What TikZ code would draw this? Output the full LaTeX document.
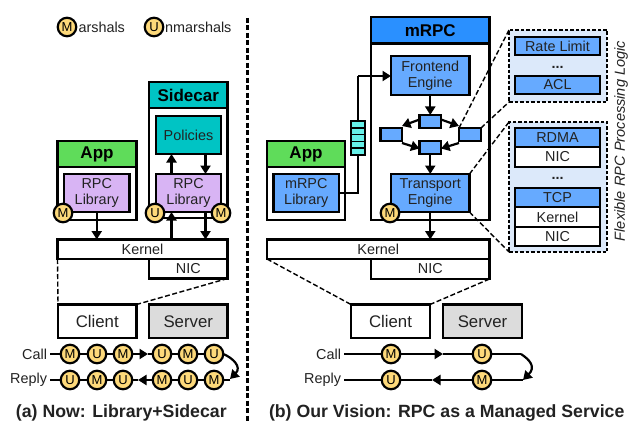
\documentclass[tikz,border=0pt]{standalone}
\usepackage{fontspec}
\setmainfont{Liberation Sans}
\usetikzlibrary{arrows.meta}
\definecolor{cgreen}{HTML}{5FDC5A}
\definecolor{cteal}{HTML}{00C4C4}
\definecolor{cpurple}{HTML}{D8B4F4}
\definecolor{cblue}{HTML}{66AAFF}
\definecolor{cdeep}{HTML}{2A90FF}
\definecolor{ccyan}{HTML}{66F0E8}
\definecolor{cyellow}{HTML}{FDD97A}
\definecolor{cgrey}{HTML}{DCDCDC}
\definecolor{cpanel}{HTML}{DCE9FA}
\definecolor{ctext}{HTML}{222222}
\tikzset{
  x=1pt,y=-1pt,
  box/.style={draw=black,line width=2.2pt,inner sep=0pt,outer sep=0pt,align=center,font=\fontsize{14.4}{16}\selectfont,text=ctext},
  head/.style={box,font=\fontsize{17}{19}\selectfont\bfseries,text=black},
  bigbox/.style={box,font=\fontsize{16.8}{19}\selectfont},
  slotbox/.style={box,font=\fontsize{14.4}{16}\selectfont},
  panel/.style={draw=black,fill=cpanel,line width=1.2pt,dash pattern=on 3.5pt off 2pt,inner sep=0pt,outer sep=0pt},
  badge/.style={circle,draw=black,fill=cyellow,line width=2.2pt,minimum size=18.5pt,inner sep=0pt,outer sep=0pt,font=\fontsize{13}{14}\selectfont},
  lab/.style={inner sep=0pt,outer sep=0pt,font=\fontsize{14.4}{16}\selectfont,text=ctext},
  captext/.style={inner sep=0pt,outer sep=0pt,font=\fontsize{17.7}{20}\selectfont\bfseries,text=ctext},
  conn/.style={draw=black,line width=2.2pt},
  arr/.style={conn,-{Triangle[length=8.5pt,width=10pt]}},
  zoomline/.style={draw=black,line width=1.4pt,dash pattern=on 5pt off 2.5pt},
  divider/.style={draw=black,line width=2.2pt,dash pattern=on 5pt off 2.5pt},
}
\newcommand{\bx}[7]{%
  \pgfmathsetmacro{\cxv}{(#2+#4)/2}\pgfmathsetmacro{\cyv}{(#3+#5)/2}%
  \pgfmathsetmacro{\wv}{#4-#2}\pgfmathsetmacro{\hv}{#5-#3}%
  \node[#6,minimum width=\wv pt,minimum height=\hv pt] (#1) at (\cxv,\cyv) {#7};}
\begin{document}
\begin{tikzpicture}
\useasboundingbox (0,0) rectangle (628,422);
\fill[white] (0,0) rectangle (628,422);
% legend
\node[badge] (legM) at (67,27) {M};
\node[lab,anchor=west] (legMt) at (78.5,27) {arshals};
\node[badge] (legU) at (154,27) {U};
\node[lab,anchor=west] (legUt) at (165,27) {nmarshals};
% divider
\coordinate (divtop) at (247.5,18);
\coordinate (divbot) at (247.5,422);
\draw[divider] (divtop) -- (divbot);
% left: app
\bx{appLb}{57.5}{141}{136.5}{220}{box,fill=white}{}
\bx{appL}{57.5}{141}{136.5}{167}{head,fill=cgreen}{App}
\bx{libA}{64}{174}{129.5}{212}{box,fill=cpurple}{RPC\\Library}
% sidecar
\bx{sideb}{149}{82}{227.5}{218}{box,fill=white}{}
\bx{side}{149}{82}{227.5}{108}{head,fill=cteal}{Sidecar}
\bx{pol}{156}{116}{221}{154}{box,fill=cteal}{Policies}
\bx{libS}{156}{174}{221}{212}{box,fill=cpurple}{RPC\\Library}
% kernel etc
\bx{nicL}{149}{259}{227.5}{278.5}{box,fill=white}{NIC}
\bx{kerL}{57.5}{239.5}{227.5}{259}{box,fill=white}{Kernel}
\bx{cliL}{58}{304.5}{136.5}{338}{bigbox,fill=white}{Client}
\bx{srvL}{149}{304.5}{227.5}{338}{bigbox,fill=cgrey}{Server}
\draw[arr] (libA.south) -- (libA.south |- kerL.north);
\draw[arr] ([xshift=-17pt]libS.north) -- ([xshift=-17pt]pol.south);
\draw[arr] ([xshift=17pt]pol.south) -- ([xshift=17pt]libS.north);
\draw[arr] ([xshift=-17pt]libS.south |- kerL.north) -- ([xshift=-17pt]libS.south);
\draw[arr] ([xshift=17pt]libS.south) -- ([xshift=17pt]libS.south |- kerL.north);
\node[badge] (bA) at (63,213) {M};
\node[badge] (bSu) at (155,213) {U};
\node[badge] (bSm) at (221,213) {M};
\draw[zoomline] (kerL.south west) -- (cliL.north west);
\draw[zoomline] (nicL.south east) -- (cliL.north east);
% left sequence
\node[lab,anchor=east] (callL) at (47,354) {Call};
\node[lab,anchor=east] (replyL) at (47,380) {Reply};
\foreach \n/\x/\t in {a1/70/M,a2/97/U,a3/123/M,a4/162/U,a5/188/M,a6/214/U}
  \node[badge] (\n) at (\x,354) {\t};
\foreach \n/\x/\t in {b1/70/U,b2/97/M,b3/123/U,b4/162/M,b5/188/U,b6/214/M}
  \node[badge] (\n) at (\x,380) {\t};
\draw[conn] ([xshift=3pt]callL.east) -- (a1) -- (a2) -- (a3);
\coordinate (amid) at (148,354);
\draw[arr] (a3) -- (amid);
\draw[conn] (amid) -- (a4) -- (a5) -- (a6);
\coordinate (atip) at (230,379);
\draw[arr] (a6.east) .. controls (233,358) and (242,367) .. (atip);
\draw[conn] (atip |- b6) -- (b6) -- (b5) -- (b4);
\coordinate (bmid) at (138,380);
\draw[arr] (b4) -- (bmid);
\draw[conn] (bmid) -- (b3) -- (b2) -- (b1) -- ([xshift=3pt]replyL.east);
\node[captext,anchor=west] (capL) at (16,413) {(a) Now: Library+Sidecar};
% right: app
\bx{appRb}{267}{141}{345}{220}{box,fill=white}{}
\bx{appR}{267}{141}{345}{167}{head,fill=cgreen}{App}
\bx{libR}{273.5}{174}{339}{212}{box,fill=cblue}{mRPC\\Library}
% mRPC
\bx{mrpcb}{371}{17}{489.5}{220}{box,fill=white}{}
\bx{mrpc}{371}{17}{489.5}{43.5}{head,fill=cdeep}{mRPC}
\bx{front}{391}{56}{469.5}{95}{box,fill=cblue}{Frontend\\Engine}
\bx{trans}{391}{174}{469.5}{212}{box,fill=cblue}{Transport\\Engine}
\bx{st}{419.5}{115}{441}{128}{box,fill=cblue}{}
\bx{sb}{419.5}{141}{441}{154}{box,fill=cblue}{}
\bx{sl}{380.5}{128}{402}{141}{box,fill=cblue}{}
\bx{sr}{459}{128}{481}{141}{box,fill=cblue}{}
\draw[arr] (front.south) -- (st.north);
\draw[arr] (sb.south) -- (trans.north);
\draw[arr] ([yshift=2pt]st.east) -- ([yshift=2pt]sr.north west);
\draw[arr] ([yshift=2pt]st.west) -- ([yshift=2pt]sl.north east);
\draw[arr] ([yshift=-2pt]sl.south east) -- ([yshift=-1pt]sb.west);
\draw[arr] ([yshift=-2pt]sr.south west) -- ([yshift=-1pt]sb.east);
\bx{nicR}{371}{259}{489.5}{279}{box,fill=white}{NIC}
\bx{kerR}{267}{239.5}{489.5}{259}{box,fill=white}{Kernel}
\bx{cliR}{351}{304.5}{430}{338}{bigbox,fill=white}{Client}
\bx{srvR}{443}{304.5}{522}{338}{bigbox,fill=cgrey}{Server}
\draw[arr] (trans.south) -- (trans.south |- kerR.north);
\node[badge] (bT) at (390,213) {M};
\draw[zoomline] (kerR.south west) -- (cliR.north west);
\draw[zoomline] (nicR.south east) -- (cliR.north east);
% queue and link
\coordinate (bendA) at (358,193);
\coordinate (bendB) at (358,76);
\draw[conn] (libR.east |- bendA) -- (bendA) -- (bendB);
\draw[arr] (bendB) -- (front.west |- bendB);
\bx{queue}{351}{121}{365}{155}{box,fill=ccyan}{}
\foreach \y in {127.8,134.6,141.4,148.2}
  \draw[draw=black,line width=1.6pt] (queue.west |- 0,\y) -- (queue.east |- 0,\y);
% panels
\bx{pan1}{509}{30}{607}{102}{panel}{}
\bx{pan2}{509}{122}{607}{252}{panel}{}
\bx{rate}{515}{37}{600}{55}{slotbox,fill=cblue}{Rate Limit}
\node[lab,font=\fontsize{14.4}{16}\selectfont\bfseries] (dots1) at (557.5,67) {...};
\bx{acl}{515}{76}{600}{94}{slotbox,fill=cblue}{ACL}
\bx{nic1}{515}{147}{600}{167}{slotbox,fill=white}{NIC}
\bx{rdma}{515}{128}{600}{147}{slotbox,fill=cblue}{RDMA}
\node[lab,font=\fontsize{14.4}{16}\selectfont\bfseries] (dots2) at (557.5,178) {...};
\bx{ker3}{515}{207}{600}{227}{slotbox,fill=white}{Kernel}
\bx{tcp}{515}{188}{600}{207}{slotbox,fill=cblue}{TCP}
\bx{nic2}{515}{227}{600}{246}{slotbox,fill=white}{NIC}
\draw[zoomline] (sr.north west) -- (pan1.north west);
\draw[zoomline] (sr.north east) -- (pan1.south west);
\draw[zoomline] (trans.north east) -- (pan2.north west);
\draw[zoomline] (trans.south east) -- (pan2.south west);
\node[lab,rotate=90,font=\fontsize{14.6}{16}\selectfont\itshape] (flex) at (621,141) {Flexible RPC Processing Logic};
% right sequence
\node[lab,anchor=east] (callR) at (341,354) {Call};
\node[lab,anchor=east] (replyR) at (341,380) {Reply};
\node[badge] (c1) at (391,354) {M};
\node[badge] (c2) at (482,354) {U};
\node[badge] (d1) at (391,380) {U};
\node[badge] (d2) at (482,380) {M};
\coordinate (cmid) at (443,354);
\coordinate (dmid) at (432,380);
\coordinate (cend) at (521,354);
\coordinate (dend) at (523,380);
\draw[conn] ([xshift=3pt]callR.east) -- (c1);
\draw[arr] (c1) -- (cmid);
\draw[conn] (cmid) -- (c2) -- (cend);
\draw[arr] (cend) .. controls (530,360) and (536,367) .. (dend);
\draw[conn] (dend) -- (d2);
\draw[arr] (d2) -- (dmid);
\draw[conn] (dmid) -- (d1) -- ([xshift=3pt]replyR.east);
\node[captext,anchor=west] (capR) at (269,413) {(b) Our Vision: RPC as a Managed Service};
\end{tikzpicture}
\end{document}
